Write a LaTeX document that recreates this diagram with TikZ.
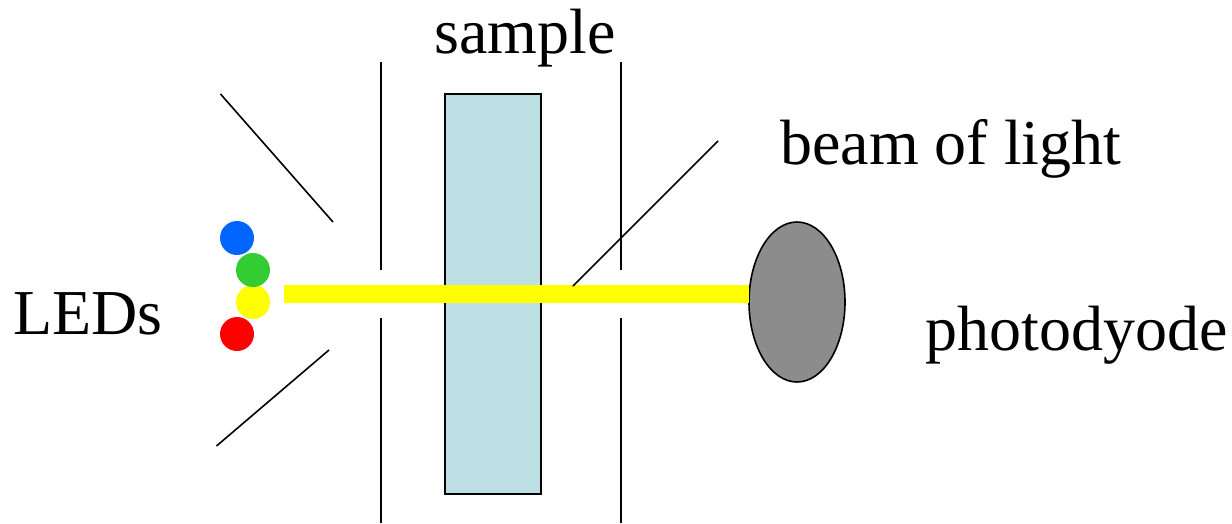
\documentclass[tikz,border=0pt]{standalone}
\usepackage{fontspec}
\usetikzlibrary{shapes.geometric}
\setmainfont{Liberation Serif}
\tikzset{
  ln/.style={draw=black,line width=1.6pt},
  led/.style={circle,minimum size=34pt,inner sep=0pt,draw=none},
  lab/.style={font=\fontsize{64}{70}\selectfont,inner sep=0pt,anchor=base west,text=black}
}
\begin{document}
\begin{tikzpicture}[x=1pt,y=-1pt]
\useasboundingbox (0,0) rectangle (1232,523);
\node[draw=black,line width=1.6pt,fill={rgb,255:red,188;green,224;blue,227},minimum width=96pt,minimum height=400pt,inner sep=0pt,outer sep=0pt] (sample) at (493,294) {};
\draw[ln] (220.5,94) coordinate (a1) -- (333,222) coordinate (a2);
\draw[ln] (216.5,446) coordinate (b1) -- (329,350) coordinate (b2);
\draw[ln] (381,61.5) coordinate (c1) -- (381,270) coordinate (c2);
\draw[ln] (381,318) coordinate (c3) -- (381,523) coordinate (c4);
\draw[ln] (621,61.5) coordinate (d1) -- (621,270) coordinate (d2);
\draw[ln] (621,318) coordinate (d3) -- (621,523) coordinate (d4);
\node[led,fill={rgb,255:red,0;green,102;blue,255}] (blue) at (237,238) {};
\node[led,fill={rgb,255:red,255;green,255;blue,0}] (yellow) at (253,302) {};
\node[led,fill={rgb,255:red,51;green,204;blue,51}] (green) at (253,270) {};
\node[led,fill=red] (red) at (237,334) {};
\node[ellipse,draw=black,line width=1.6pt,fill={rgb,255:red,140;green,140;blue,140},minimum width=96pt,minimum height=160pt,inner sep=0pt,outer sep=0pt] (pd) at (797,302) {};
\coordinate (bs) at (284,294);
\coordinate (be) at (749,294);
\draw[line width=18pt,color={rgb,255:red,255;green,255;blue,0}] (bs) -- (be);
\coordinate (p1) at (718,141);
\coordinate (p2) at (573,286);
\draw[ln] (p1) -- (p2);
\node[lab] (tsample) at (434,53) {sample};
\node[lab] (tbeam) at (780,164) {beam of light};
\node[lab] (tleds) at (13,334) {LEDs};
\node[lab] (tphoto) at (925,350) {photodyode};
\end{tikzpicture}
\end{document}
